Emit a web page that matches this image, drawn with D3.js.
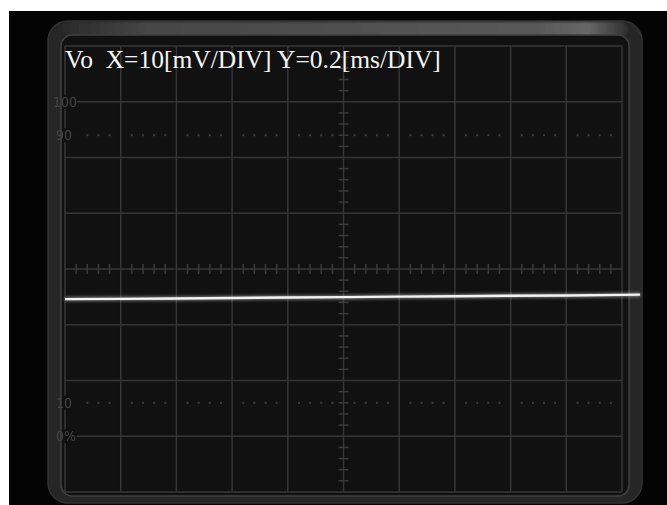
<!DOCTYPE html>
<html><head><meta charset="utf-8">
<script src="https://cdn.jsdelivr.net/npm/d3@7"></script>
<style>html,body{margin:0;padding:0;background:#fff;} svg{display:block;}</style>
</head><body>
<svg id="c" width="667" height="505"></svg>
<script>
// ---- data ----
const title = "Vo  X=10[mV/DIV] Y=0.2[ms/DIV]";
const timeMs  = [0, 0.2, 0.4, 0.6, 0.8, 1.0, 1.2, 1.4, 1.6, 1.8, 2.0, 2.065];
const voltsMv = [-5.4, -5.35, -5.3, -5.2, -5.1, -5.05, -4.95, -4.9, -4.8, -4.75, -4.65, -4.6];
const xTicks = [0, 0.2, 0.4, 0.6, 0.8, 1.0, 1.2, 1.4, 1.6, 1.8, 2.0];
const yTicks = [-40, -30, -20, -10, 0, 10, 20, 30, 40];
const pctLabels = ["100", "90", "10", "0%"];
const pctLevels = [30, 24, -24, -30];
const dottedLevels = [24, -24];

const svg = d3.select("#c");
const W = 667, H = 505;

// background
svg.append("rect").attr("x", 9).attr("y", 11).attr("width", W - 9).attr("height", H - 11).attr("fill", "#040404");

const defs = svg.append("defs");
const g1 = defs.append("linearGradient").attr("id", "topHi").attr("x1", 0).attr("x2", 1).attr("y1", 0).attr("y2", 0);
[[0, "#2a2a2a"], [0.15, "#464646"], [0.5, "#505050"], [0.85, "#5a5a5a"], [0.93, "#676767"], [1, "#303030"]]
  .forEach(([o, c]) => g1.append("stop").attr("offset", o).attr("stop-color", c));
const blur = defs.append("filter").attr("id", "glow").attr("x", "-5%").attr("y", "-200%").attr("width", "110%").attr("height", "500%");
blur.append("feGaussianBlur").attr("stdDeviation", 1.6);
const soft = defs.append("filter").attr("id", "soft");
soft.append("feGaussianBlur").attr("stdDeviation", 0.45);
const soft2 = defs.append("filter").attr("id", "soft2").attr("x", "-5%").attr("y", "-5%").attr("width", "110%").attr("height", "110%");
soft2.append("feGaussianBlur").attr("stdDeviation", 1.2);

// bezel
svg.append("rect").attr("x", 48).attr("y", 21).attr("width", 594).attr("height", 482).attr("rx", 20)
  .attr("fill", "#252525").attr("stroke", "#333").attr("stroke-width", 1.5).attr("filter", "url(#soft)");
svg.append("rect").attr("x", 62).attr("y", 22).attr("width", 566).attr("height", 14).attr("rx", 7)
  .attr("fill", "url(#topHi)").attr("filter", "url(#soft2)");
svg.append("rect").attr("x", 61).attr("y", 35).attr("width", 568).attr("height", 461).attr("rx", 11)
  .attr("fill", "#111").attr("stroke", "#404040").attr("stroke-width", 1.5);

// scales
const x = d3.scaleLinear().domain([0, 2]).range([65, 622]);
const y = d3.scaleLinear().domain([-40, 40]).range([492, 46]);

const gridCol = "#363636";
const grid = svg.append("g").attr("filter", "url(#soft)");
grid.selectAll("line.v").data(xTicks).join("line")
  .attr("x1", d => x(d)).attr("x2", d => x(d)).attr("y1", y(40)).attr("y2", y(-40))
  .attr("stroke", gridCol).attr("stroke-width", 1.5);
grid.selectAll("line.h").data(yTicks).join("line")
  .attr("y1", d => y(d)).attr("y2", d => y(d)).attr("x1", x(0)).attr("x2", x(2))
  .attr("stroke", gridCol).attr("stroke-width", 1.5);

const xMinor = d3.range(0, 51).map(i => i * 0.04).filter((d, i) => i % 5 !== 0);
const yMinor = d3.range(0, 41).map(i => -40 + i * 2).filter((d, i) => i % 5 !== 0);

// centre axis ticks
grid.selectAll("line.xm").data(xMinor).join("line")
  .attr("x1", d => x(d)).attr("x2", d => x(d)).attr("y1", y(0) - 5).attr("y2", y(0) + 5)
  .attr("stroke", "#3a3a3a").attr("stroke-width", 1.5);
grid.selectAll("line.ym").data(yMinor).join("line")
  .attr("y1", d => y(d)).attr("y2", d => y(d)).attr("x1", x(1) - 5).attr("x2", x(1) + 5)
  .attr("stroke", "#3a3a3a").attr("stroke-width", 1.5);

// dotted 90% / 10% lines
dottedLevels.forEach(lv => {
  grid.selectAll(null).data(xMinor).join("rect")
    .attr("x", d => x(d) - 1).attr("y", y(lv) - 1).attr("width", 2).attr("height", 2)
    .attr("fill", "#3c3c3c");
});

// percent labels with masks over the grid edge only
const lab = svg.append("g");
lab.selectAll("rect").data(pctLevels).join("rect")
  .attr("x", 62.5).attr("y", d => y(d) - 7).attr("width", 14.5).attr("height", 14).attr("fill", "#111");
lab.selectAll("text").data(pctLabels).join("text")
  .attr("x", (d, i) => i === 0 ? 53 : 56).attr("y", (d, i) => y(pctLevels[i]) + 5)
  .attr("font-family", "'Liberation Sans Narrow','DejaVu Sans Condensed',sans-serif")
  .attr("font-size", 14).attr("fill", "#444").attr("filter", "url(#soft)")
  .text(d => d);

// trace
const line = d3.line().x((d, i) => x(timeMs[i])).y(d => y(d));
svg.append("path").datum(voltsMv).attr("d", line).attr("fill", "none")
  .attr("stroke", "#bdbdbd").attr("stroke-width", 4.5).attr("opacity", 0.55).attr("filter", "url(#glow)");
svg.append("path").datum(voltsMv).attr("d", line).attr("fill", "none")
  .attr("stroke", "#f2f2f2").attr("stroke-width", 2.4);

// title
svg.append("text").attr("x", 65).attr("y", 68)
  .attr("font-family", "'Liberation Serif','DejaVu Serif',serif").attr("font-size", 25.5)
  .attr("fill", "#f4f4f4").style("white-space", "pre").text(title);
</script>
</body></html>
